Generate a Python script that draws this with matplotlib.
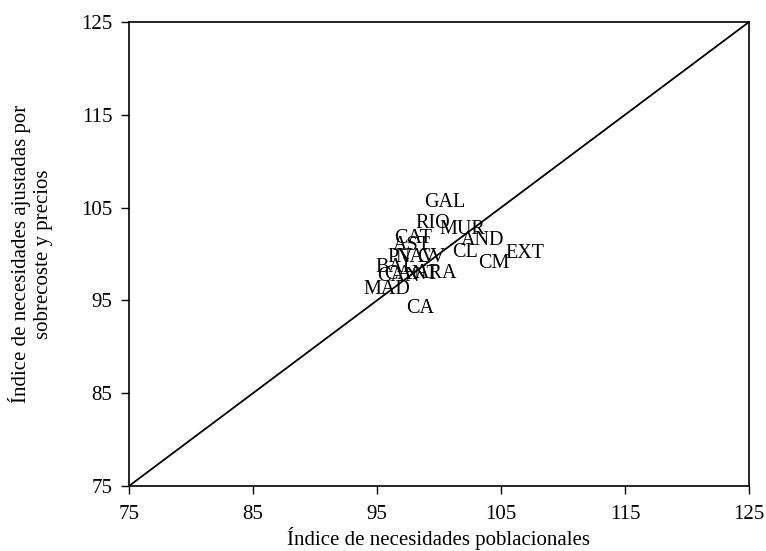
import matplotlib
matplotlib.use("Agg")
import matplotlib.pyplot as plt

# regiones y sus indices (x: necesidades poblacionales, y: ajustadas)
regiones = ["GAL", "RIO", "MUR", "CAT", "AST", "AND", "CL", "EXT", "CM",
            "PV", "NAV", "CV", "BAL", "CAN", "CANT", "ARA", "MAD", "CA"]
ind_pob = [100.5, 99.5, 101.9, 97.9, 97.8, 103.5, 102.1, 106.9, 104.4,
           96.9, 98.1, 99.4, 96.5, 96.7, 97.8, 99.8, 95.8, 98.5]
ind_ajust = [105.5, 103.3, 102.6, 101.7, 100.9, 101.4, 100.2, 100.0, 99.0,
             99.6, 99.6, 99.6, 98.5, 97.6, 97.8, 97.9, 96.2, 94.1]

ticks = [75, 85, 95, 105, 115, 125]

plt.rcParams["font.family"] = ["Liberation Serif", "DejaVu Serif"]

fig = plt.figure(figsize=(7.66, 5.51), dpi=100)
ax = fig.add_axes([0.1684, 0.118, 0.8094, 0.8421])

ax.plot([75, 125], [75, 125], color="black", linewidth=1.3)
for nom, x, y in zip(regiones, ind_pob, ind_ajust):
    ax.text(x, y, nom, ha="center", va="center", fontsize=14.5)

ax.set_xlim(75, 125)
ax.set_ylim(75, 125)
ax.set_xticks(ticks)
ax.set_yticks(ticks)
ax.tick_params(direction="out", length=6, width=1, labelsize=15)
ax.tick_params(axis="x", pad=8)
ax.tick_params(axis="y", pad=6)
for s in ax.spines.values():
    s.set_linewidth(1.2)

ax.set_xlabel("Índice de necesidades poblacionales", fontsize=15, labelpad=2)
ax.set_ylabel("Índice de necesidades ajustadas por\nsobrecoste y precios",
              fontsize=15, labelpad=20)

fig.savefig("out.png", dpi=100)
plt.close()
